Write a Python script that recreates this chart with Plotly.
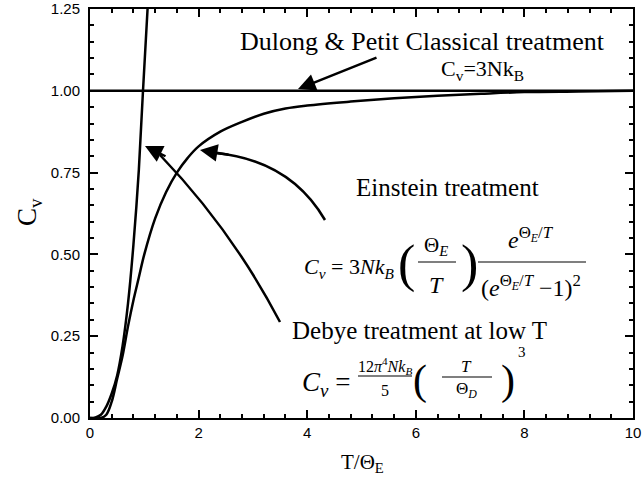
import plotly.graph_objects as go

# ---- data ----
einstein_T = [0.0, 0.2, 0.3, 0.4, 0.5, 0.6, 0.7, 0.8, 0.9, 1.0, 1.2, 1.4, 1.6, 1.8, 2.0,
              2.4, 2.8, 3.2, 3.6, 4.0, 4.8, 5.6, 6.4, 7.2, 8.0, 9.0, 10.0]
einstein_Cv = [0.0, 0.0, 0.01, 0.05, 0.12, 0.19, 0.28, 0.36, 0.43, 0.50, 0.61, 0.69, 0.75, 0.795, 0.83,
               0.875, 0.905, 0.93, 0.946, 0.955, 0.967, 0.977, 0.985, 0.991, 0.996, 0.998, 1.0]
debye_T = [0.0, 0.1, 0.2, 0.3, 0.4, 0.5, 0.6, 0.7, 0.8, 0.9, 0.976, 1.06]
debye_Cv = [0.0, 0.002, 0.01, 0.035, 0.075, 0.13, 0.22, 0.35, 0.53, 0.76, 1.0, 1.25]
dulong_T = [0.0, 10.0]
dulong_Cv = [1.0, 1.0]
x_ticks = [0, 2, 4, 6, 8, 10]
y_ticks = [0.0, 0.25, 0.5, 0.75, 1.0, 1.25]

# ---- layout geometry (pixels) ----
W, H = 642, 479
L, R, T, B = 90, 9, 9, 61
PW, PH = W - L - R, H - T - B


def px(x):
    return (x - L) / PW


def py(y):
    return (H - B - y) / PH


SERIF = "Liberation Serif"
SANS = "Liberation Sans"
LINE = dict(color="black", width=2.5)

fig = go.Figure()
fig.add_trace(go.Scatter(x=dulong_T, y=dulong_Cv, mode="lines", line=LINE, showlegend=False))
fig.add_trace(go.Scatter(x=einstein_T, y=einstein_Cv, mode="lines", line=dict(LINE, shape="spline"),
                         showlegend=False))
fig.add_trace(go.Scatter(x=debye_T, y=debye_Cv, mode="lines", line=dict(LINE, shape="spline"),
                         showlegend=False))

ann = []
shapes = []


def text(x, y, s, size, anchor="center", family=SERIF, angle=0):
    ann.append(dict(x=px(x), y=py(y), xref="paper", yref="paper", text=s, showarrow=False,
                    xanchor=anchor, yanchor="middle", textangle=angle,
                    font=dict(family=family, size=size, color="black")))


def hline(x0, x1, y, w=1.2):
    shapes.append(dict(type="line", xref="paper", yref="paper", x0=px(x0), x1=px(x1),
                       y0=py(y), y1=py(y), line=dict(color="black", width=w)))


def arrowhead(hx, hy, ax, ay):
    ann.append(dict(x=px(hx), y=py(hy), xref="paper", yref="paper", text="", showarrow=True,
                    ax=ax, ay=ay, arrowhead=2, arrowsize=1.4, arrowwidth=2.5, arrowcolor="black"))


# Dulong & Petit
text(422, 42, "Dulong &amp; Petit Classical treatment", 26)
text(482, 70, "C<sub>v</sub>=3Nk<sub>B</sub>", 22)
arrowhead(298, 89, 80, -32)

# Einstein
text(447, 187, "Einstein treatment", 25)
shapes.append(dict(type="path", xref="paper", yref="paper",
                   path=f"M {px(325)},{py(220)} Q {px(290)},{py(160)} {px(215)},{py(153)}",
                   line=dict(color="black", width=2.5)))
arrowhead(200, 150, 30, 5)

text(302, 268, "<i>C<sub>v</sub></i> = 3<i>Nk<sub>B</sub></i>", 22, anchor="left")
text(406, 264, "(", 52)
text(469, 264, ")", 52)
text(436, 246, "Θ<sub><i>E</i></sub>", 21)
hline(418, 456, 262)
text(436, 285, "<i>T</i>", 24)
text(531, 238, "<i>e</i><sup>Θ<sub><i>E</i></sub>/<i>T</i></sup>", 24)
hline(478, 586, 262)
text(531, 286, "(<i>e</i><sup>Θ<sub><i>E</i></sub>/<i>T</i></sup> −1)<sup>2</sup>", 24)

# Debye
shapes.append(dict(type="path", xref="paper", yref="paper",
                   path=f"M {px(280)},{py(322)} Q {px(232)},{py(230)} {px(160)},{py(155)}",
                   line=dict(color="black", width=2.5)))
arrowhead(145, 146, 22, 11)
text(290, 330, "Debye treatment at low T", 25, anchor="left")
text(300, 384, "<i>C<sub>v</sub></i> =", 27, anchor="left")
text(385, 366, "12<i>π</i><sup>4</sup><i>Nk<sub>B</sub></i>", 16)
hline(358, 412, 376)
text(385, 390, "5", 16)
text(420, 380, "(", 42)
text(508, 380, ")", 42)
text(466, 366, "<i>T</i>", 17)
hline(442, 492, 377)
text(466, 390, "Θ<sub><i>D</i></sub>", 17)
text(522, 352, "3", 15)

# axis titles
text(29, 212, "C<sub>v</sub>", 27, angle=-90)
text(362, 463, "T/Θ<sub>E</sub>", 21)

axis_common = dict(showgrid=False, zeroline=False, showline=True, linecolor="black", linewidth=2,
                   mirror="ticks", ticks="inside", ticklen=8, tickwidth=2, tickcolor="black",
                   automargin=False,
                   tickfont=dict(family=SANS, size=15, color="black"))

fig.update_layout(
    width=W, height=H, margin=dict(l=L, r=R, t=T, b=B, autoexpand=False),
    plot_bgcolor="white", paper_bgcolor="white",
    xaxis=dict(axis_common, range=[0, 10], tickvals=x_ticks, ticktext=[str(v) for v in x_ticks],
               minor=dict(dtick=0.4, ticks="inside", ticklen=4, tickwidth=1.5, tickcolor="black")),
    yaxis=dict(axis_common, range=[0, 1.25], tickvals=y_ticks, ticktext=[f"{v:.2f}" for v in y_ticks],
               ticklabelstandoff=5,
               minor=dict(dtick=0.05, ticks="inside", ticklen=4, tickwidth=1.5, tickcolor="black")),
    annotations=ann, shapes=shapes,
)

fig.write_html("out.html")
